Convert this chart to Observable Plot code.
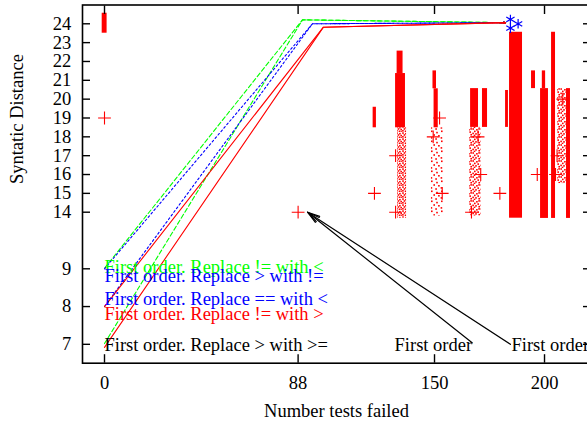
<!DOCTYPE html>
<html><head><meta charset="utf-8">
<script src="https://cdn.jsdelivr.net/npm/d3@7"></script>
<script src="https://cdn.jsdelivr.net/npm/@observablehq/plot@0.6"></script>
<style>html,body{margin:0;padding:0;background:#fff;overflow:hidden}</style>
</head><body><div id="chart"></div>
<script>
// ---- axis ticks ----
const xTicks = [0, 88, 150, 200];
const yTicks = [7, 8, 9, 14, 15, 16, 17, 18, 19, 20, 21, 22, 23, 24];

// ---- dense clouds of dots (x range, y range) ----
const denseX1 = [-1.05, 122.1, 133.0, 132.3, 149.3, 149.8, 166.4, 171.8, 182.3, 184.1, 194.1, 199.0, 198.2, 203.2, 210.0];
const denseX2 = [1.18, 123.6, 135.7, 136.8, 150.9, 151.7, 170.0, 174.1, 183.6, 190.0, 195.9, 200.5, 201.8, 205.0, 211.8];
const denseY1 = [23.5, 18.48, 21.36, 18.48, 20.55, 18.48, 18.5, 18.5, 18.5, 13.47, 20.56, 20.56, 13.45, 13.45, 13.45];
const denseY2 = [24.56, 19.57, 22.55, 21.36, 21.5, 20.55, 20.56, 20.56, 20.46, 23.55, 21.5, 21.5, 20.56, 23.55, 20.56];

// ---- scattered clouds of dots ----
const sparseX1 = [133.2, 148.6, 165.9, 205.9];
const sparseX2 = [137.3, 154.1, 171.2, 210.0];
const sparseY1 = [13.47, 13.66, 13.66, 15.52];
const sparseY2 = [18.48, 18.48, 18.5, 20.56];
const sparseLevel = ["high", "low", "mid", "mid"];

// ---- "+" points ----
const plusX = [0, 88, 122.7, 132.3, 132.3, 149.4, 152.3, 153.5, 169.8, 171, 166.8, 179.7, 196.7, 205.7, 205, 208.3];
const plusY = [19, 14, 15, 17, 14, 18, 19, 15, 18, 16, 14, 15, 16, 17, 16, 20];

// ---- "*" points ----
const starX = [184.5, 184.5, 188];
const starY = [24.23, 23.77, 24.0];

// ---- coloured paths (start at x=0, corner, then tip) ----
const pathSeries = ["green", "green", "blue", "blue", "red", "red"];
const pathStartY = [9.05, 7.02, 9.0, 8.0, 8.0, 6.92];
const pathCornerX = [90, 90, 94.5, 94.5, 99.5, 99.5];
const pathCornerY = [24.21, 24.21, 24.0, 24.0, 23.82, 23.82];
const pathTipX = 182.3;
const pathTipY = 24.06;

// ---- black arrows ----
const arrowX1 = [167.1, 184.5];
const arrowY1 = [7.04, 7.0];
const arrowX2 = [92.3, 92.3];
const arrowY2 = [14, 14];

// ---- labels ----
const noteText = ["First order. Replace != with <", "First order. Replace > with !=", "First order. Replace == with <", "First order. Replace != with >", "First order. Replace > with >="];
const noteSeries = ["green", "blue", "blue", "red", "black"];
const noteY = [9.18, 8.8, 8.2, 7.8, 6.97];
const foText = ["First order", "First order"];
const foX = [167.1, 185];
const foY = [6.97, 6.97];

// ---- styles ----
const FONT = "'Liberation Serif', 'Times New Roman', 'DejaVu Serif', serif";
const colorOf = {green: "#00ff00", blue: "#0000ff", red: "#ff0000", black: "#000000"};
const dashOf = {green: "4.5,2.5", blue: "2,2.5", red: null};

const denseRows = denseX1.map((x1, i) => ({x1, x2: denseX2[i], y1: denseY1[i], y2: denseY2[i]}));
const sparseRows = sparseX1.map((x1, i) => ({x1, x2: sparseX2[i], y1: sparseY1[i], y2: sparseY2[i], level: sparseLevel[i]}));
const plusRows = plusX.map((x, i) => ({x, y: plusY[i]}));
const starRows = starX.map((x, i) => ({x, y: starY[i]}));
const pathRows = [];
const headRows = [];
pathSeries.forEach((s, i) => {
  const id = s + i;
  pathRows.push({id, s, x: 0, y: pathStartY[i]});
  pathRows.push({id, s, x: pathCornerX[i], y: pathCornerY[i]});
  pathRows.push({id, s, x: pathTipX, y: pathTipY});
  headRows.push({s, x1: pathTipX - 0.03 * (pathTipX - pathCornerX[i]), y1: pathTipY - 0.03 * (pathTipY - pathCornerY[i]), x2: pathTipX, y2: pathTipY});
});
const arrowRows = arrowX1.map((x1, i) => ({x1, y1: arrowY1[i], x2: arrowX2[i], y2: arrowY2[i]}));
const noteRows = noteText.map((t, i) => ({t, s: noteSeries[i], x: 0, y: noteY[i]}));
const foRows = foText.map((t, i) => ({t, x: foX[i], y: foY[i], a: i === 0 ? "end" : "start"}));

// texture of scattered dots (style only)
const defsMark = () => {
  const ns = "http://www.w3.org/2000/svg";
  const defs = document.createElementNS(ns, "defs");
  const sq = (x, y) => `<rect x="${x}" y="${y}" width="1.6" height="1.6" fill="#ff0000"/>`;
  const pat = (id, w, h, pts) => `<pattern id="${id}" width="${w}" height="${h}" patternUnits="userSpaceOnUse">${pts.map(p => sq(p[0], p[1])).join("")}</pattern>`;
  defs.innerHTML =
    pat("dots-high", 6, 6, [[0.2,0.3],[3.1,0.9],[1.6,2.2],[4.4,2.8],[0.1,4.0],[2.7,4.5],[4.6,5.2]]) +
    pat("dots-mid", 8, 8, [[0.4,0.2],[4.1,1.0],[6.3,0.1],[2.0,2.6],[5.4,3.3],[0.3,4.6],[3.2,5.1],[6.4,5.9],[1.7,6.7]]) +
    pat("dots-low", 10, 10, [[1.0,0.5],[6.2,1.8],[3.4,4.2],[8.1,5.0],[0.6,7.1],[5.3,8.2]]);
  return defs;
};

const marks = [
  defsMark,
  ...["high", "mid", "low"].map(l => Plot.rect(sparseRows.filter(d => d.level === l), {x1: "x1", x2: "x2", y1: "y1", y2: "y2", fill: `url(#dots-${l})`})),
  Plot.rect(denseRows, {x1: "x1", x2: "x2", y1: "y1", y2: "y2", fill: "#ff0000"}),
  Plot.dot(plusRows, {x: "x", y: "y", symbol: "plus", r: 4.2, stroke: "#ff0000", strokeWidth: 1.1}),
];
["green", "blue", "red"].forEach(s => {
  marks.push(Plot.line(pathRows.filter(d => d.s === s), {x: "x", y: "y", z: "id", stroke: colorOf[s], strokeWidth: 1.1, strokeDasharray: dashOf[s]}));
  marks.push(Plot.arrow(headRows.filter(d => d.s === s), {x1: "x1", y1: "y1", x2: "x2", y2: "y2", stroke: colorOf[s], strokeWidth: 1.1, headLength: 15, headAngle: 40}));
});
marks.push(
  Plot.dot(starRows, {x: "x", y: "y", symbol: "asterisk", r: 4.5, stroke: "#0000ff", strokeWidth: 1.2}),
  Plot.arrow(arrowRows, {x1: "x1", y1: "y1", x2: "x2", y2: "y2", stroke: "#000", strokeWidth: 1.2, headLength: 16, headAngle: 28}),
  Plot.text(noteRows, {x: "x", y: "y", text: "t", fill: d => colorOf[d.s], textAnchor: "start", lineAnchor: "middle"}),
  Plot.text(foRows.filter(d => d.a === "end"), {x: "x", y: "y", text: "t", fill: "#000", textAnchor: "end", lineAnchor: "middle"}),
  Plot.text(foRows.filter(d => d.a === "start"), {x: "x", y: "y", text: "t", fill: "#000", textAnchor: "start", lineAnchor: "middle"}),
  Plot.frame({stroke: "#000", strokeWidth: 1.6}),
  Plot.axisX({ticks: xTicks, anchor: "bottom", tickSize: -8.5, tickPadding: 21, label: null, strokeWidth: 1.4}),
  Plot.axisX({ticks: xTicks, anchor: "top", tickSize: -8.5, tickFormat: () => "", label: null, strokeWidth: 1.4}),
  Plot.axisY({ticks: yTicks, anchor: "left", tickSize: -8, tickPadding: 19.3, label: null, strokeWidth: 1.4}),
  Plot.axisY({ticks: yTicks, anchor: "right", tickSize: -8, tickFormat: () => "", label: null, strokeWidth: 1.4}),
  Plot.text(["Number tests failed"], {text: d => d, frameAnchor: "bottom", dy: 47.5, lineAnchor: "middle", fill: "#000"}),
  Plot.text(["Syntatic Distance"], {text: d => d, frameAnchor: "left", dx: -65, rotate: -90, lineAnchor: "middle", fill: "#000"})
);

const chart = Plot.plot({
  width: 587, height: 424,
  marginLeft: 82, marginRight: -3, marginTop: 4.5, marginBottom: 61.3,
  style: {fontFamily: FONT, fontSize: "18.5px", background: "#fff", color: "#000"},
  x: {type: "linear", domain: [-10, 220.9]},
  y: {type: "linear", domain: [6.5, 9, 14, 25], range: [362.7, 268.3, 211.7, 4.45]},
  color: {type: "identity"},
  marks
});
document.getElementById("chart").appendChild(chart);
</script></body></html>
